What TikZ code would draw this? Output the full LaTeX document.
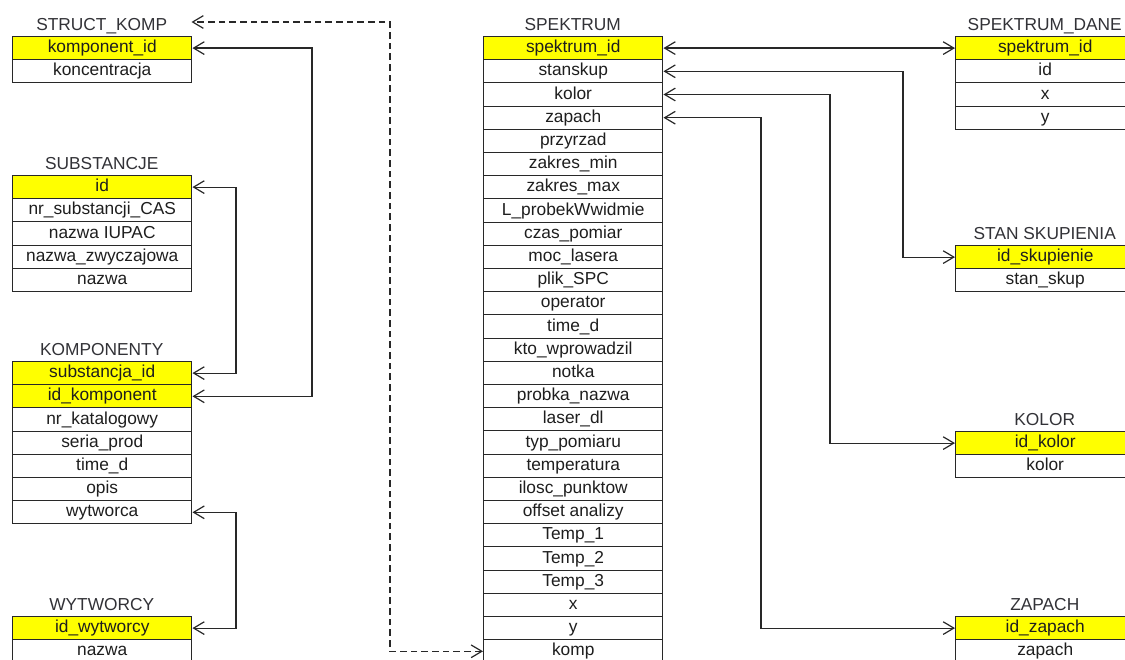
\documentclass[tikz,border=0pt]{standalone}
\usepackage{fontspec}
\setmainfont{Liberation Sans}
\usetikzlibrary{arrows.meta}
\definecolor{keyyellow}{RGB}{255,255,0}
\definecolor{txt}{RGB}{30,30,30}
\definecolor{ttl}{RGB}{50,50,55}
\definecolor{brd}{RGB}{40,40,40}
\newcommand{\dbtable}[6]{%
  \node[tabtitle] (#1t) at ({#2+89.75}, {#3-10}) {#4};
  \foreach \t [count=\i] in {#6} {%
    \ifnum\i>#5\relax\def\rst{rowbox}\else\def\rst{keybox}\fi
    \node[\rst] (#1\i) at (#2, {#3+23.2*(\i-1)}) {\t};
  }%
}
\begin{document}
\begin{tikzpicture}[x=0.75pt,y=-0.75pt,
  rowbox/.style={draw=brd, line width=0.75pt, fill=white, minimum width=134.6pt, minimum height=17.4pt,
    text height=9.4pt, text depth=2.6pt,
    inner sep=0pt, anchor=north west, text=txt, font=\fontsize{13}{15}\selectfont},
  keybox/.style={rowbox, fill=keyyellow},
  tabtitle/.style={inner sep=0pt, text height=9.4pt, text depth=2.6pt, text=ttl, font=\fontsize{13}{15}\selectfont},
  link/.style={draw=brd, line width=0.9pt, {Straight Barb[length=8pt,width=9.5pt,line width=0.9pt]}-{Straight Barb[length=8pt,width=9.5pt,line width=0.9pt]}},
  dashlink/.style={link, dash pattern=on 5pt off 3pt}
]
\fill[white] (0,0) rectangle (1125,660);
\clip (0,0) rectangle (1125,660);

\dbtable{sk}{12}{36}{STRUCT\_KOMP}{1}{komponent\_id,koncentracja}
\dbtable{su}{12}{175}{SUBSTANCJE}{1}{id,nr\_substancji\_CAS,nazwa IUPAC,nazwa\_zwyczajowa,nazwa}
\dbtable{ko}{12}{361}{KOMPONENTY}{2}{substancja\_id,id\_komponent,nr\_katalogowy,seria\_prod,time\_d,opis,wytworca}
\dbtable{wy}{12}{616}{WYTWORCY}{1}{id\_wytworcy,nazwa}
\dbtable{sp}{483}{36}{SPEKTRUM}{1}{spektrum\_id,stanskup,kolor,zapach,przyrzad,zakres\_min,zakres\_max,L\_probekWwidmie,czas\_pomiar,moc\_lasera,plik\_SPC,operator,time\_d,kto\_wprowadzil,notka,probka\_nazwa,laser\_dl,typ\_pomiaru,temperatura,ilosc\_punktow,offset analizy,Temp\_1,Temp\_2,Temp\_3,x,y,komp}
\dbtable{sd}{955}{36}{SPEKTRUM\_DANE}{1}{spektrum\_id,id,x,y}
\dbtable{ss}{955}{245}{STAN SKUPIENIA}{1}{id\_skupienie,stan\_skup}
\dbtable{kl}{955}{431}{KOLOR}{1}{id\_kolor,kolor}
\dbtable{za}{955}{616}{ZAPACH}{1}{id\_zapach,zapach}

\coordinate (vA) at (312,0);
\coordinate (vB) at (236,0);
\coordinate (vD) at (390,0);
\coordinate (vS) at (903,0);
\coordinate (vK) at (830,0);
\coordinate (vZ) at (761,0);
\coordinate (dashend) at (191.5,22);

\draw[link] (sk1.east) -- (sk1.east -| vA) |- (ko2.east);
\draw[link] (su1.east) -- (su1.east -| vB) |- (ko1.east);
\draw[link] (ko7.east) -- (ko7.east -| vB) |- (wy1.east);
\draw[link] (sp1.east) -- (sd1.west);
\draw[link] (sp2.east) -- (sp2.east -| vS) |- (ss1.west);
\draw[link] (sp3.east) -- (sp3.east -| vK) |- (kl1.west);
\draw[link] (sp4.east) -- (sp4.east -| vZ) |- (za1.west);
\draw[dashlink] (sp27.west) -- (sp27.west -| vD) |- (dashend);
\end{tikzpicture}
\end{document}
